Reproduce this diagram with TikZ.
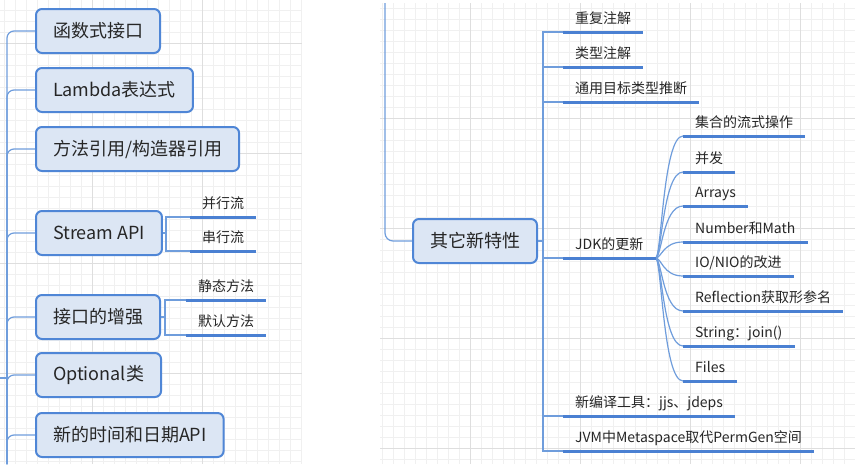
\documentclass[tikz,border=0pt]{standalone}
\usepackage{fontspec}
\setmainfont{Noto Sans CJK SC}
\definecolor{topicfill}{HTML}{DCE6F4}
\definecolor{topicline}{HTML}{4F86D6}
\definecolor{connblue}{HTML}{6F9DDC}
\definecolor{ulblue}{HTML}{4A80D2}
\definecolor{gridminor}{HTML}{F0F0F0}
\definecolor{gridmajor}{HTML}{DEDEDE}
\definecolor{inktext}{HTML}{262626}
\tikzset{
  topic/.style={draw=topicline, line width=2pt, fill=topicfill, rounded corners=6pt,
    minimum height=44pt, inner xsep=17pt, anchor=west, text=inktext,
    font=\fontsize{18}{20}\selectfont},
  leaf/.style={anchor=south west, inner xsep=12pt, inner ysep=5.5pt, text height=11pt,
    text depth=3pt, text=inktext, font=\fontsize{14}{16}\selectfont},
  conn/.style={draw=connblue, line width=1.2pt},
  uline/.style={draw=ulblue, line width=3pt},
}
\begin{document}
\begin{tikzpicture}[x=1pt,y=-1pt]
\useasboundingbox[fill=white] (0,0) rectangle (855,464);
% grid, left pane
\foreach \x in {4,15,...,302} \draw[gridminor, line width=0.8pt] (\x,0) -- (\x,464);
\foreach \y in {10,21,...,464} \draw[gridminor, line width=0.8pt] (0,\y) -- (302,\y);
\foreach \x in {92,202} \draw[gridmajor, line width=0.8pt] (\x,0) -- (\x,464);
\foreach \y in {43,153,263,373} \draw[gridmajor, line width=0.8pt] (0,\y) -- (302,\y);
% grid, right pane
\foreach \x in {382,393,...,855} \draw[gridminor, line width=0.8pt] (\x,3) -- (\x,464);
\foreach \y in {8,19,...,464} \draw[gridminor, line width=0.8pt] (380,\y) -- (855,\y);
\foreach \x in {470,580,690,800} \draw[gridmajor, line width=0.8pt] (\x,3) -- (\x,464);
\foreach \y in {118,228,338,448} \draw[gridmajor, line width=0.8pt] (380,\y) -- (855,\y);

% left map
\node[topic] (f1) at (35,31) {函数式接口};
\node[topic] (f2) at (35,90) {Lambda表达式};
\node[topic] (f3) at (35,149) {方法引用/构造器引用};
\node[topic] (f4) at (35,233) {Stream API};
\node[topic] (f5) at (35,317) {接口的增强};
\node[topic] (f6) at (35,375) {Optional类};
\node[topic] (f7) at (35,435) {新的时间和日期API};
\node[leaf] (s1) at (190,217) {并行流};
\node[leaf] (s2) at (190,251) {串行流};
\node[leaf] (m1) at (186,300) {静态方法};
\node[leaf] (m2) at (186,335) {默认方法};

\coordinate (ltrunk) at (7,464);
\coordinate (lroot) at (0,378);
\foreach \i in {1,...,7} \draw[conn, rounded corners=7pt] (ltrunk) |- (f\i.west);
\draw[conn] (lroot) -- (lroot -| ltrunk);
\draw[conn] (f4.east) -- ++(3,0) coordinate (sj);
\foreach \n in {s1,s2} \draw[conn] (sj) |- (\n.south west);
\draw[conn] (f5.east) -- ++(4,0) coordinate (mj);
\foreach \n in {m1,m2} \draw[conn] (mj) |- (\n.south west);

% right map
\node[topic] (r0) at (412,241) {其它新特性};
\node[leaf] (a1) at (563,32) {重复注解};
\node[leaf] (a2) at (563,67) {类型注解};
\node[leaf] (a3) at (563,102) {通用目标类型推断};
\node[leaf] (a4) at (563,258) {JDK的更新};
\node[leaf] (a5) at (563,416) {新编译工具：jjs、jdeps};
\node[leaf] (a6) at (563,451) {JVM中Metaspace取代PermGen空间};
\node[leaf] (b1) at (683,136) {集合的流式操作};
\node[leaf] (b2) at (683,172) {并发};
\node[leaf] (b3) at (683,206) {Arrays};
\node[leaf] (b4) at (683,242) {Number和Math};
\node[leaf] (b5) at (683,276) {IO/NIO的改进};
\node[leaf] (b6) at (683,311) {Reflection获取形参名};
\node[leaf] (b7) at (683,346) {String：join()};
\node[leaf] (b8) at (683,381) {Files};

\coordinate (rtop) at (385,3);
\draw[conn, rounded corners=8pt] (rtop) |- (r0.west);
\draw[conn] (r0.east) -- ++(5,0) coordinate (rj);
\foreach \i in {1,...,6} \draw[conn] (rj) |- (a\i.south west);
\foreach \i in {1,...,8} \draw[conn] (a4.south east) .. controls +(6,0) and +(-20,0) .. (b\i.south west);

\foreach \n in {s1,s2,m1,m2,a1,a2,a3,a4,a5,a6,b1,b2,b3,b4,b5,b6,b7,b8}
  \draw[uline] (\n.south west) -- (\n.south east);
\end{tikzpicture}
\end{document}
